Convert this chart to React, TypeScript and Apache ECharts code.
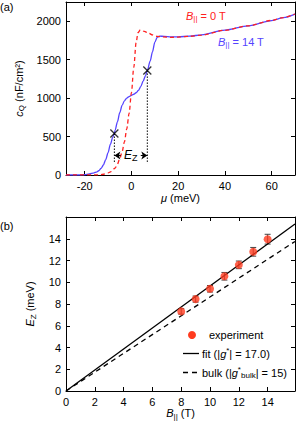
import React, { useEffect, useRef } from 'react';
import * as echarts from 'echarts';

// Panel (a): quantum capacitance vs chemical potential
const muBlue = [-28, -22, -20, -18, -16, -15, -14, -13, -12, -11, -10, -9, -8, -7.3, -7, -6, -5, -4, -3, -2, -1, 0, 1, 2, 3, 4, 5, 6, 6.8, 8, 9, 10, 11, 12, 14, 17, 20, 25, 30, 40, 50, 60, 65, 70];
const cqBlue = [0, 0, 3, 15, 28, 38, 55, 85, 130, 200, 290, 400, 490, 540, 580, 690, 810, 905, 965, 1000, 1020, 1035, 1050, 1070, 1100, 1150, 1220, 1290, 1360, 1480, 1600, 1725, 1790, 1806, 1803, 1795, 1797, 1806, 1823, 1884, 1940, 2008, 2046, 2092];
const muRed = [-28, -14, -12, -10, -8.7, -7, -6, -5, -4, -3, -2, -1, 0, 1, 2, 2.8, 3.8, 5.5, 7.4, 9, 10.9, 13, 17, 20, 25, 30, 40, 50, 60, 65, 70];
const cqRed = [0, 2, 10, 28, 45, 90, 140, 210, 300, 430, 600, 800, 1070, 1400, 1720, 1850, 1887, 1868, 1843, 1822, 1804, 1797, 1790, 1794, 1804, 1820, 1882, 1940, 2010, 2048, 2094];
const crossMu = [-7.3, 6.8];
const crossCq = [540, 1360];
const dottedEnd = 150;
const arrowCq = 255;
const arrowTailMu = [-4.6, 4.0];

// Panel (b): Zeeman energy vs in-plane field
const fieldB = [8, 9, 10, 11, 12, 13, 14];
const ezExp = [7.32, 8.45, 9.4, 10.55, 11.6, 12.8, 13.96];
const ezErr = [0.25, 0.28, 0.3, 0.35, 0.35, 0.4, 0.45];
const fitB = [0, 15.9];
const fitEz = [0, 15.35];
const bulkB = [0, 15.9];
const bulkEz = [0, 13.75];

const legendLabels = [
  '{n|experiment}',
  '{n|fit (|}{i|g}{sp|*}{n|| = 17.0)}',
  '{n|bulk (|}{i|g}{sp|*}{s|bulk}{n|| = 15)}',
];

const FONT = "'Liberation Sans', Arial, sans-serif";
const rich = {
  n: { fontSize: 11, lineHeight: 14, verticalAlign: 'middle', fontFamily: FONT },
  i: { fontSize: 11, lineHeight: 14, verticalAlign: 'middle', fontStyle: 'italic', fontFamily: FONT },
  s: { fontSize: 8, lineHeight: 8, verticalAlign: 'bottom', fontFamily: FONT },
  sp: { fontSize: 8, lineHeight: 8, verticalAlign: 'top', fontFamily: FONT },
};
const richBig = {
  ...rich,
  i: { fontSize: 12, lineHeight: 15, verticalAlign: 'middle', fontStyle: 'italic', fontFamily: FONT },
  s: { fontSize: 9, lineHeight: 9, verticalAlign: 'bottom', fontFamily: FONT },
};

export default function App() {
  const ref = useRef<HTMLDivElement>(null);
  useEffect(() => {
    if (!ref.current) return;
    const chart = echarts.init(ref.current, null, { renderer: 'svg' });
    const tick = { show: true, inside: true, length: 4, lineStyle: { color: '#000', width: 1 } };
    const line = { show: true, onZero: false, lineStyle: { color: '#000', width: 1 } };
    const label = { color: '#000', fontSize: 11, fontFamily: FONT, margin: 5 };
    const zip = (a: number[], b: number[]) => a.map((v, k) => [v, b[k]]);
    const legY = [335, 353.5, 372.5];
    const option: any = {
      animation: false,
      textStyle: { fontFamily: FONT },
      grid: [
        { left: 66, right: 1, top: 2, height: 173 },
        { left: 66, right: 1, top: 217, height: 174 },
      ],
      xAxis: [
        {
          gridIndex: 0, type: 'value', min: -28, max: 70, splitNumber: 5,
          axisLine: line, axisTick: tick, splitLine: { show: false },
          axisLabel: { ...label, formatter: (v: number) => (v % 20 === 0 ? String(v) : '') },
          name: '{i|μ}{n| (meV)}', nameLocation: 'middle', nameGap: 16,
          nameTextStyle: { rich, color: '#000' },
        },
        {
          gridIndex: 0, type: 'value', min: -28, max: 70, splitNumber: 5, position: 'top',
          axisLine: line, axisTick: tick, splitLine: { show: false }, axisLabel: { show: false },
        },
        {
          gridIndex: 1, type: 'value', min: 0, max: 15.9, interval: 2,
          axisLine: line, axisTick: tick, splitLine: { show: false },
          axisLabel: { ...label, formatter: (v: number) => (v % 2 === 0 ? String(v) : '') },
          name: '{i|B}{s|||}{n| (T)}', nameLocation: 'middle', nameGap: 15,
          nameTextStyle: { rich, color: '#000' },
        },
        {
          gridIndex: 1, type: 'value', min: 0, max: 15.9, interval: 2, position: 'top',
          axisLine: line, axisTick: tick, splitLine: { show: false }, axisLabel: { show: false },
        },
      ],
      yAxis: [
        {
          gridIndex: 0, type: 'value', min: 0, max: 2250, interval: 500,
          axisLine: line, axisTick: tick, splitLine: { show: false },
          axisLabel: { ...label, formatter: (v: number) => (v % 500 === 0 ? String(v) : '') },
          name: '{i|c}{s|Q}{n| (nF/cm²)}', nameLocation: 'middle', nameGap: 25, nameRotate: 90,
          nameTextStyle: { rich, color: '#000' },
        },
        {
          gridIndex: 0, type: 'value', min: 0, max: 2250, interval: 500, position: 'right',
          axisLine: line, axisTick: tick, splitLine: { show: false }, axisLabel: { show: false },
        },
        {
          gridIndex: 1, type: 'value', min: 0, max: 16, interval: 2,
          axisLine: line, axisTick: tick, splitLine: { show: false },
          axisLabel: { ...label, formatter: (v: number) => (v % 2 === 0 && v < 16 ? String(v) : '') },
          name: '{i|E}{s|Z}{n| (meV)}', nameLocation: 'middle', nameGap: 29, nameRotate: 90,
          nameTextStyle: { rich, color: '#000' },
        },
        {
          gridIndex: 1, type: 'value', min: 0, max: 16, interval: 2, position: 'right',
          axisLine: line, axisTick: tick, splitLine: { show: false }, axisLabel: { show: false },
        },
      ],
      graphic: [
        { type: 'text', left: 0, top: 1, style: { text: '(a)', fontSize: 11, fontFamily: FONT, fill: '#000' } },
        { type: 'text', left: 0, top: 220, style: { text: '(b)', fontSize: 11, fontFamily: FONT, fill: '#000' } },
        { type: 'text', left: 186, top: 10, style: { text: '{i|B}{s|||}{n| = 0 T}', rich, fill: '#ff2020' } },
        { type: 'text', left: 218, top: 36, style: { text: '{i|B}{s|||}{n| = 14 T}', rich, fill: '#5544ff' } },
        // legend of panel (b)
        { type: 'circle', shape: { cx: 192, cy: legY[0], r: 4 }, style: { fill: '#ff3b1f' } },
        { type: 'line', shape: { x1: 183, y1: legY[1], x2: 199, y2: legY[1] }, style: { stroke: '#000', lineWidth: 1.3 } },
        { type: 'line', shape: { x1: 183, y1: legY[2], x2: 200, y2: legY[2] }, style: { stroke: '#000', lineWidth: 1.3, lineDash: [5, 4] } },
        { type: 'text', x: 209, y: legY[0], style: { text: legendLabels[0], rich, fill: '#000', verticalAlign: 'middle' } },
        { type: 'text', x: 202, y: legY[1], style: { text: legendLabels[1], rich, fill: '#000', verticalAlign: 'middle' } },
        { type: 'text', x: 202, y: legY[2], style: { text: legendLabels[2], rich, fill: '#000', verticalAlign: 'middle' } },
      ],
      series: [
        {
          name: 'B14', type: 'line', xAxisIndex: 0, yAxisIndex: 0, data: zip(muBlue, cqBlue),
          showSymbol: false, symbol: 'none', smooth: 0.3, smoothMonotone: 'x',
          lineStyle: { color: '#5544ff', width: 1.3 }, z: 2,
        },
        {
          name: 'B0', type: 'line', xAxisIndex: 0, yAxisIndex: 0, data: zip(muRed, cqRed),
          showSymbol: false, symbol: 'none', smooth: 0.3, smoothMonotone: 'x',
          lineStyle: { color: '#ff2020', width: 1.3, type: [4, 3] }, z: 3,
        },
        {
          name: 'dot1', type: 'line', xAxisIndex: 0, yAxisIndex: 0,
          data: [[crossMu[0], crossCq[0]], [crossMu[0], dottedEnd]], symbol: 'none',
          lineStyle: { color: '#000', width: 1, type: [1.5, 1.5] }, z: 4,
          markLine: {
            silent: true, symbol: ['none', 'arrow'], symbolSize: 6,
            label: { show: false },
            lineStyle: { color: '#000', width: 1, type: 'solid' },
            data: [
              [{ coord: [arrowTailMu[0], arrowCq] }, { coord: [crossMu[0], arrowCq] }],
              [{ coord: [arrowTailMu[1], arrowCq] }, { coord: [crossMu[1], arrowCq] }],
            ],
          },
          markPoint: {
            silent: true, symbol: 'circle', symbolSize: 0,
            data: [{ coord: [(arrowTailMu[0] + arrowTailMu[1]) / 2, arrowCq] }],
            label: { show: true, position: 'inside', formatter: '{i|E}{s|Z}', rich: richBig, color: '#000' },
          },
        },
        {
          name: 'dot2', type: 'line', xAxisIndex: 0, yAxisIndex: 0,
          data: [[crossMu[1], crossCq[1]], [crossMu[1], dottedEnd]], symbol: 'none',
          lineStyle: { color: '#000', width: 1, type: [1.5, 1.5] }, z: 4,
        },
        {
          name: 'cross', type: 'scatter', xAxisIndex: 0, yAxisIndex: 0, data: zip(crossMu, crossCq),
          symbol: 'path://M0 0L10 10M10 0L0 10', symbolSize: 8,
          itemStyle: { color: 'transparent', borderColor: '#000', borderWidth: 1.3 }, z: 5,
        },
        {
          name: 'fit', type: 'line', xAxisIndex: 2, yAxisIndex: 2, data: zip(fitB, fitEz),
          symbol: 'none', showSymbol: false, color: '#000',
          lineStyle: { color: '#000', width: 1.3 },
        },
        {
          name: 'bulk', type: 'line', xAxisIndex: 2, yAxisIndex: 2, data: zip(bulkB, bulkEz),
          symbol: 'none', showSymbol: false, color: '#000',
          lineStyle: { color: '#000', width: 1.3, type: [5, 4] },
        },
        {
          name: 'err', type: 'custom', xAxisIndex: 2, yAxisIndex: 2,
          data: fieldB.map((b, k) => [b, ezExp[k], ezExp[k] - ezErr[k], ezExp[k] + ezErr[k]]),
          encode: { x: 0, y: 1 },
          renderItem: (params: any, api: any) => {
            const x = api.value(0);
            const lo = api.coord([x, api.value(2)]);
            const hi = api.coord([x, api.value(3)]);
            const w = 3;
            const st = { stroke: '#444', lineWidth: 1 };
            return {
              type: 'group',
              children: [
                { type: 'line', shape: { x1: lo[0], y1: lo[1], x2: hi[0], y2: hi[1] }, style: st },
                { type: 'line', shape: { x1: lo[0] - w, y1: lo[1], x2: lo[0] + w, y2: lo[1] }, style: st },
                { type: 'line', shape: { x1: hi[0] - w, y1: hi[1], x2: hi[0] + w, y2: hi[1] }, style: st },
              ],
            };
          },
          z: 3,
        },
        {
          name: 'experiment', type: 'scatter', xAxisIndex: 2, yAxisIndex: 2, data: zip(fieldB, ezExp),
          symbol: 'circle', symbolSize: 8, itemStyle: { color: '#ff3b1f' }, z: 4,
        },
      ],
    };
    chart.setOption(option);
    return () => chart.dispose();
  }, []);
  return <div ref={ref} style={{ position: 'absolute', left: 0, top: 0, width: 298, height: 426 }} />;
}
